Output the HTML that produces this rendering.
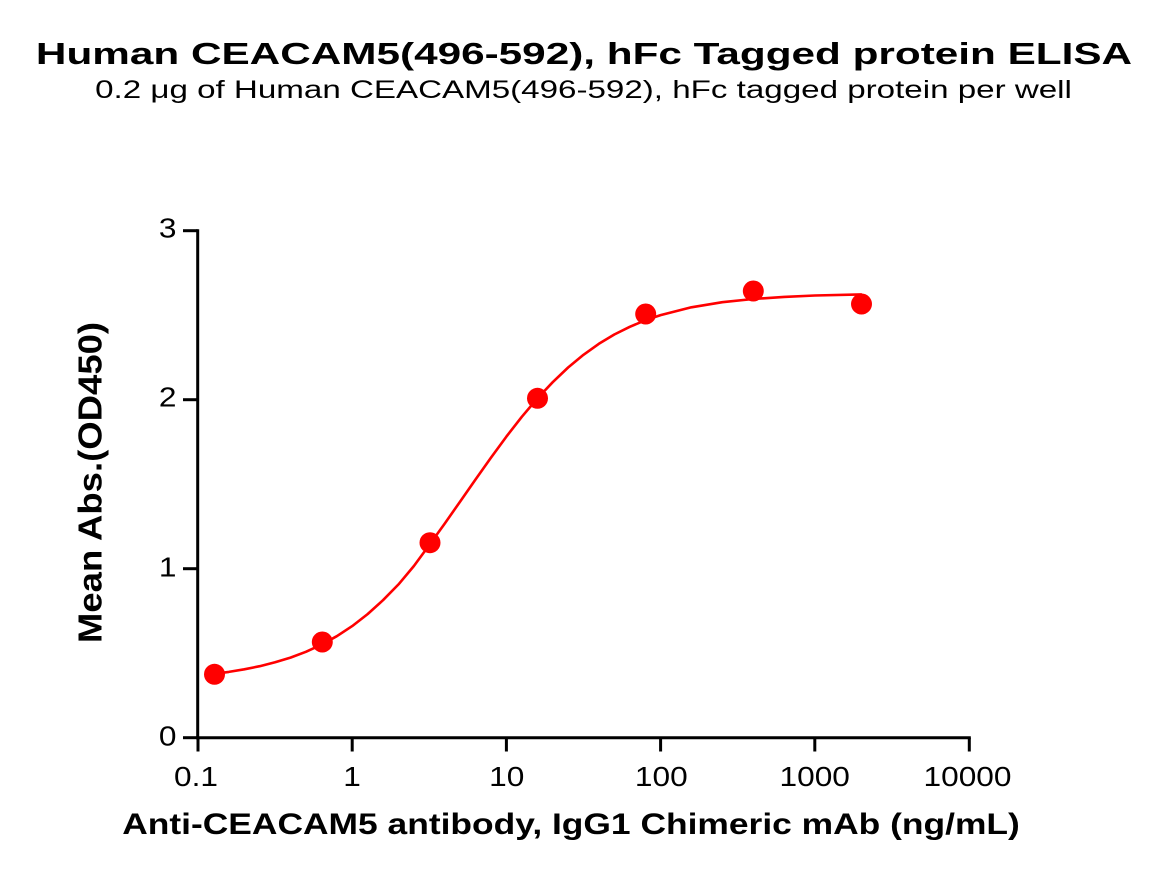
<!DOCTYPE html>
<html>
<head>
<meta charset="utf-8">
<style>
  html, body { margin: 0; padding: 0; background: #ffffff; }
  svg { display: block; }
  text { font-family: "Liberation Sans", Arial, sans-serif; fill: #000; }
</style>
</head>
<body>
<svg width="1169" height="886" viewBox="0 0 1169 886" xmlns="http://www.w3.org/2000/svg">
  <rect width="1169" height="886" fill="#ffffff"/>

  <!-- Titles -->
  <text transform="translate(584,64) scale(1.36,1)" x="0" y="0" font-size="31" font-weight="bold" text-anchor="middle" textLength="806" lengthAdjust="spacingAndGlyphs">Human CEACAM5(496-592), hFc Tagged protein ELISA</text>
  <text transform="translate(583.5,98) scale(1.37,1)" x="0" y="0" font-size="25" text-anchor="middle" textLength="713" lengthAdjust="spacingAndGlyphs">0.2 μg of Human CEACAM5(496-592), hFc tagged protein per well</text>

  <!-- Axes -->
  <g stroke="#000" stroke-width="3" fill="none">
    <line x1="197.7" y1="229.2" x2="197.7" y2="739.2"/>
    <line x1="196.2" y1="737.7" x2="970.8" y2="737.7"/>
    <!-- y ticks -->
    <line x1="183" y1="230.7" x2="197.7" y2="230.7"/>
    <line x1="183" y1="399.7" x2="197.7" y2="399.7"/>
    <line x1="183" y1="568.7" x2="197.7" y2="568.7"/>
    <line x1="183" y1="737.7" x2="197.7" y2="737.7"/>
    <!-- x ticks -->
    <line x1="198" y1="737.7" x2="198" y2="751.5"/>
    <line x1="352.2" y1="737.7" x2="352.2" y2="751.5"/>
    <line x1="506.4" y1="737.7" x2="506.4" y2="751.5"/>
    <line x1="660.6" y1="737.7" x2="660.6" y2="751.5"/>
    <line x1="814.8" y1="737.7" x2="814.8" y2="751.5"/>
    <line x1="969.3" y1="737.7" x2="969.3" y2="751.5"/>
  </g>

  <!-- Y tick labels -->
  <g font-size="28" text-anchor="end">
    <text transform="translate(176.5,237.5) scale(1.13,1)">3</text>
    <text transform="translate(176.5,406.5) scale(1.13,1)">2</text>
    <text transform="translate(176.5,576.5) scale(1.13,1)">1</text>
    <text transform="translate(176.5,745.5) scale(1.13,1)">0</text>
  </g>

  <!-- X tick labels -->
  <g font-size="28" text-anchor="middle">
    <text transform="translate(196,786) scale(1.13,1)">0.1</text>
    <text transform="translate(352,786) scale(1.13,1)">1</text>
    <text transform="translate(506.7,786) scale(1.13,1)">10</text>
    <text transform="translate(661.3,786) scale(1.13,1)">100</text>
    <text transform="translate(814.7,786) scale(1.13,1)">1000</text>
    <text transform="translate(967.5,786) scale(1.13,1)">10000</text>
  </g>

  <!-- Axis titles -->
  <text transform="translate(571,834) scale(1.2,1)" x="0" y="0" font-size="29.5" font-weight="bold" text-anchor="middle" textLength="748" lengthAdjust="spacingAndGlyphs">Anti-CEACAM5 antibody, IgG1 Chimeric mAb (ng/mL)</text>
  <text transform="translate(101.7,482.5) rotate(-90) scale(1.085,1)" x="0" y="0" font-size="33.5" font-weight="bold" text-anchor="middle" textLength="296" lengthAdjust="spacingAndGlyphs">Mean Abs.(OD450)</text>

  <!-- Fitted curve -->
  <polyline fill="none" stroke="#ff0000" stroke-width="2.6" stroke-linejoin="round" stroke-linecap="round"
    points="214.5,673.8 228.8,671.9 244.3,669.3 259.7,666.2 275.1,662.3 290.5,657.6 305.9,651.8 321.4,644.7 336.8,636.2 352.2,626.1 367.6,614.1 383.0,600.2 398.5,584.4 413.9,566.0 429.3,545.0 444.7,523.6 460.1,501.6 475.6,479.4 491.0,457.6 506.4,436.6 521.8,416.8 537.2,398.6 552.7,382.2 568.1,367.5 583.5,354.8 598.9,343.8 614.3,334.5 629.8,326.8 645.2,320.3 660.6,315.1 691.4,307.3 722.3,302.2 753.1,299.0 784.0,296.9 814.8,295.5 861.2,294.4"/>

  <!-- Data points -->
  <g fill="#ff0000">
    <circle cx="214.5" cy="674.3" r="10.5"/>
    <circle cx="322.3" cy="642.0" r="10.5"/>
    <circle cx="430.0" cy="542.7" r="10.5"/>
    <circle cx="537.5" cy="398.3" r="10.5"/>
    <circle cx="645.7" cy="314.0" r="10.5"/>
    <circle cx="753.3" cy="291.0" r="10.5"/>
    <circle cx="861.5" cy="304.0" r="10.5"/>
  </g>
</svg>
</body>
</html>
